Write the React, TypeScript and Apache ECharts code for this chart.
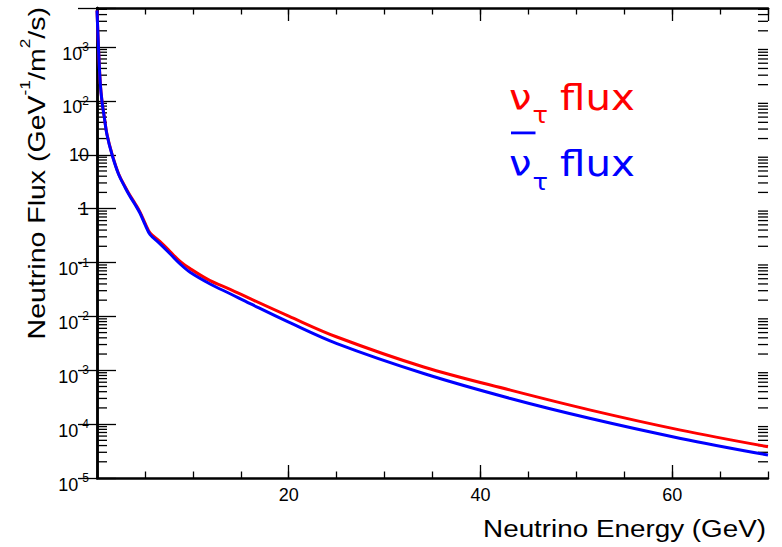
import React, { useEffect, useRef } from "react";
import * as echarts from "echarts";

// Neutrino energy (GeV) sample points
const energy = [0, 0.17, 0.35, 0.52, 0.77, 1.04, 1.57, 2.26, 2.96, 3.45, 4.0, 4.49, 5.05, 5.54, 6.58, 7.62, 8.67, 9.71, 11.8, 13.89, 15.98, 20, 25.03, 34.08, 43.13, 51.49, 60.89, 70];
// nu_tau flux (GeV^-1/m^2/s)
const nuTauFlux = [4800, 850, 205, 100, 49, 24, 10.3, 4.4, 2.5, 1.75, 1.22, 0.86, 0.52, 0.355, 0.245, 0.16, 0.105, 0.077, 0.046, 0.0318, 0.0213, 0.0101, 0.00414, 0.00115, 0.000427, 0.000182, 7.74e-5, 3.8e-5];
// anti nu_tau flux
const nuTauBarFlux = [4800, 840, 200, 98, 48, 23.5, 10, 4.3, 2.42, 1.68, 1.17, 0.82, 0.49, 0.33, 0.222, 0.145, 0.094, 0.066, 0.04, 0.0263, 0.0172, 0.0078, 0.00312, 0.000869, 0.000299, 0.000127, 5.43e-5, 2.67e-5];

const xMin = 0;
const xMax = 70;
const yMin = 1e-5;
const yMax = 5300;
// y tick labels: decade exponents
const decades = [-5, -4, -3, -2, -1, 0, 1, 2, 3];
const minorMultipliers = [2, 3, 4, 5, 6, 7, 8, 9];

const seriesNames = ["ν_τ flux", "anti ν_τ flux"];
const seriesColors = ["#ff0000", "#0000ff"];

export default function App() {
  const ref = useRef<HTMLDivElement>(null);

  useEffect(() => {
    if (!ref.current) return;
    const chart = echarts.init(ref.current, undefined, { renderer: "svg" });

    const minorTicks: number[][] = [];
    decades.forEach((d) => {
      minorMultipliers.forEach((m) => {
        const v = m * Math.pow(10, d);
        if (v < yMax) minorTicks.push([xMin, v]);
      });
    });
    const majorLabels = decades.map((d) => [xMin, Math.pow(10, d), d]);

    const font = "Liberation Sans";
    const tickStyle = { color: "#000", width: 1.3 };
    const lineStyle = { color: "#000", width: 2.5 };

    const labelText = (k: number) => {
      if (k === 0) return "{p|1}";
      if (k === 1) return "{p|10}";
      return "{b|10}{s|" + k + "}";
    };

    const xBase = {
      type: "value",
      min: xMin,
      max: xMax,
      splitLine: { show: false },
    };

    const legendRow = (color: string, yc: number, bar: boolean) => {
      const children: any[] = [
        {
          type: "text",
          x: 509,
          y: yc,
          scaleX: 1.12,
          style: { text: "ν", fill: color, fontSize: 36, fontFamily: "DejaVu Sans", align: "left", verticalAlign: "middle" },
        },
        {
          type: "text",
          x: 532.5,
          y: yc + 17.5,
          scaleX: 1.12,
          style: { text: "τ", fill: color, fontSize: 23, fontFamily: "DejaVu Sans", align: "left", verticalAlign: "middle" },
        },
        {
          type: "text",
          x: 560,
          y: yc,
          scaleX: 1.12,
          style: { text: "flux", fill: color, fontSize: 36, fontFamily: "DejaVu Sans", align: "left", verticalAlign: "middle" },
        },
      ];
      if (bar) {
        children.push({
          type: "rect",
          shape: { x: 511, y: 131.5, width: 24.5, height: 2.8 },
          style: { fill: color },
        });
      }
      return { type: "group", children };
    };

    const yAxisBase = {
      type: "log",
      logBase: 10,
      min: yMin,
      max: yMax,
      splitNumber: 9,
      splitLine: { show: false },
      axisLine: { show: true, lineStyle },
      axisTick: { show: true, inside: true, length: 19, lineStyle: tickStyle },
      axisLabel: { show: false },
    };

    chart.setOption({
      animation: false,
      backgroundColor: "#fff",
      grid: { left: 97, right: 14, top: 8, bottom: 69, containLabel: false },
      xAxis: [
        {
          ...xBase,
          position: "bottom",
          interval: 20,
          axisLine: { show: true, lineStyle },
          axisTick: { show: true, inside: true, length: 13, lineStyle: tickStyle },
          axisLabel: {
            show: true,
            margin: 8,
            color: "#000",
            fontSize: 18,
            fontFamily: font,
            showMinLabel: false,
            showMaxLabel: false,
          },
        },
        {
          ...xBase,
          position: "bottom",
          interval: 5,
          axisLine: { show: false },
          axisTick: { show: true, inside: true, length: 6.5, lineStyle: tickStyle },
          axisLabel: { show: false },
        },
        {
          ...xBase,
          position: "top",
          interval: 20,
          axisLine: { show: true, lineStyle },
          axisTick: { show: true, inside: true, length: 13, lineStyle: tickStyle },
          axisLabel: { show: false },
        },
        {
          ...xBase,
          position: "top",
          interval: 5,
          axisLine: { show: false },
          axisTick: { show: true, inside: true, length: 6.5, lineStyle: tickStyle },
          axisLabel: { show: false },
        },
      ],
      yAxis: [
        { ...yAxisBase, position: "left" },
        { ...yAxisBase, position: "right" },
      ],
      series: [
        {
          type: "custom",
          name: "minor ticks",
          xAxisIndex: 0,
          yAxisIndex: 0,
          silent: true,
          clip: false,
          data: minorTicks,
          renderItem: (params: any, api: any) => {
            const v = api.value(1);
            const l = api.coord([xMin, v]);
            const r = api.coord([xMax, v]);
            const st = { stroke: "#000", lineWidth: 1.3 };
            return {
              type: "group",
              children: [
                { type: "line", shape: { x1: l[0], y1: l[1], x2: l[0] + 10, y2: l[1] }, style: st },
                { type: "line", shape: { x1: r[0], y1: r[1], x2: r[0] - 10, y2: r[1] }, style: st },
              ],
            };
          },
        },
        {
          type: "custom",
          name: "y labels",
          xAxisIndex: 0,
          yAxisIndex: 0,
          silent: true,
          clip: false,
          data: majorLabels,
          renderItem: (params: any, api: any) => {
            const v = api.value(1);
            const k = api.value(2);
            const p = api.coord([xMin, v]);
            return {
              type: "text",
              x: p[0] - 8,
              y: p[1],
              style: {
                text: labelText(k),
                fill: "#000",
                align: "right",
                verticalAlign: "middle",
                rich: {
                  b: { fontSize: 18, fontFamily: font, fill: "#000", lineHeight: 31, verticalAlign: "bottom" },
                  s: { fontSize: 12, fontFamily: font, fill: "#000", verticalAlign: "middle" },
                  p: { fontSize: 18, fontFamily: font, fill: "#000" },
                },
              },
            };
          },
        },
        {
          type: "line",
          name: seriesNames[0],
          xAxisIndex: 0,
          yAxisIndex: 0,
          data: energy.map((e, i) => [e, nuTauFlux[i]]),
          showSymbol: false,
          smooth: 0.35,
          lineStyle: { color: seriesColors[0], width: 3 },
          itemStyle: { color: seriesColors[0] },
          z: 3,
        },
        {
          type: "line",
          name: seriesNames[1],
          xAxisIndex: 0,
          yAxisIndex: 0,
          data: energy.map((e, i) => [e, nuTauBarFlux[i]]),
          showSymbol: false,
          smooth: 0.35,
          lineStyle: { color: seriesColors[1], width: 3 },
          itemStyle: { color: seriesColors[1] },
          z: 4,
        },
      ],
      graphic: [
        {
          type: "text",
          x: 766,
          y: 528.5,
          scaleX: 1.21,
          style: {
            text: "Neutrino Energy (GeV)",
            fill: "#000",
            fontSize: 23,
            fontFamily: font,
            align: "right",
            verticalAlign: "middle",
          },
        },
        {
          type: "text",
          x: 33.5,
          y: 7,
          rotation: Math.PI / 2,
          scaleX: 1.24,
          style: {
            text: "{t|Neutrino Flux (GeV}{s|-1}{t|/m}{s|2}{t|/s)}",
            fill: "#000",
            align: "right",
            verticalAlign: "middle",
            rich: {
              t: { fontSize: 23, fontFamily: font, fill: "#000", lineHeight: 30.5, verticalAlign: "bottom" },
              s: { fontSize: 14, fontFamily: font, fill: "#000", verticalAlign: "top" },
            },
          },
        },
        legendRow(seriesColors[0], 97.5, false),
        legendRow(seriesColors[1], 164, true),
      ],
    });

    return () => chart.dispose();
  }, []);

  return (
    <div
      ref={ref}
      style={{ position: "absolute", left: 0, top: 0, width: 782, height: 547 }}
    />
  );
}
